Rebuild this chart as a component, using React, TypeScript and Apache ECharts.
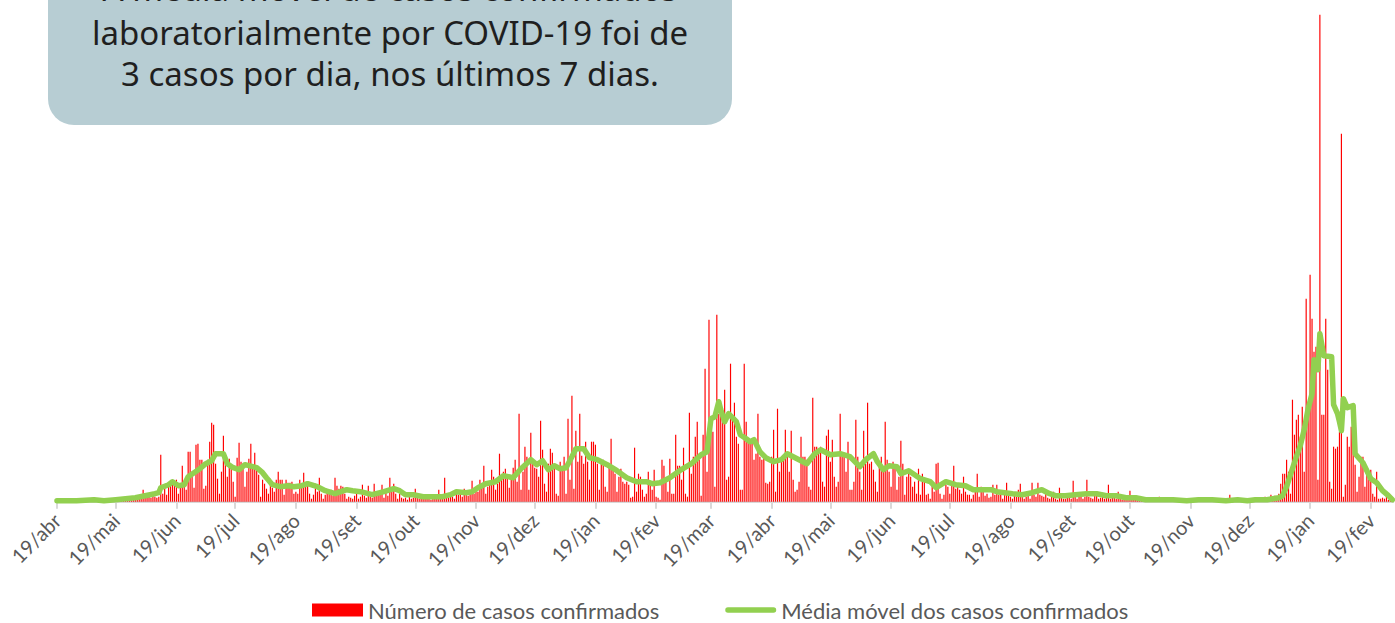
import React, { useEffect, useRef } from "react";
import * as echarts from "echarts";

// First day of the series: 19/abr/2020
const START_DATE = [2020, 3, 19];
const MONTH_NAMES = ["jan", "fev", "mar", "abr", "mai", "jun", "jul", "ago", "set", "out", "nov", "dez"];

const legendNames = ["Número de casos confirmados", "Média móvel dos casos confirmados"];

const noteLines = [
  "A média móvel de casos confirmados",
  "laboratorialmente por COVID-19 foi de",
  "3 casos por dia, nos últimos 7 dias.",
];

// Daily confirmed cases (one value per day, starting 19/abr/2020)
const dailyCases = [
  // 0
  0, 1, 0, 2, 1, 0, 1, 3, 1, 2,
  1, 0, 2, 1, 3, 1, 0, 2, 4, 1,
  2, 1, 3, 0, 1, 2, 1, 3, 2, 1,
  2, 3, 1, 4, 2, 3, 5, 2, 3, 4,
  5, 3, 6, 4, 12, 5, 6, 7, 4, 8,
  // 50
  5, 4, 5, 47, 8, 14, 7, 15, 18, 22,
  20, 22, 8, 16, 36, 18, 12, 50, 50, 28,
  14, 57, 58, 42, 42, 13, 16, 42, 60, 79,
  77, 38, 23, 8, 30, 66, 45, 25, 43, 35,
  20, 5, 44, 59, 40, 37, 15, 30, 43, 58,
  // 100
  33, 49, 32, 27, 5, 22, 18, 13, 8, 23,
  14, 10, 22, 30, 22, 22, 7, 22, 19, 19,
  20, 8, 10, 8, 22, 18, 29, 15, 16, 8,
  3, 7, 18, 10, 24, 8, 3, 7, 10, 8,
  12, 6, 24, 16, 13, 16, 15, 8, 3, 5,
  // 150
  4, 3, 6, 8, 3, 5, 17, 6, 4, 16,
  5, 4, 18, 6, 10, 7, 17, 4, 10, 6,
  24, 10, 18, 8, 3, 8, 4, 3, 4, 2,
  5, 3, 4, 13, 6, 3, 5, 4, 5, 3,
  4, 2, 6, 3, 4, 12, 5, 3, 24, 6,
  // 200
  4, 8, 5, 3, 12, 7, 9, 5, 13, 8,
  6, 10, 21, 8, 12, 10, 22, 14, 36, 8,
  15, 20, 32, 25, 12, 18, 48, 22, 30, 33,
  25, 14, 22, 34, 42, 20, 88, 12, 30, 55,
  45, 12, 69, 40, 34, 33, 25, 81, 52, 18,
  // 250
  10, 38, 53, 49, 38, 8, 6, 40, 35, 45,
  8, 83, 22, 106, 13, 71, 40, 88, 46, 38,
  60, 40, 22, 60, 60, 57, 38, 12, 38, 42,
  15, 10, 38, 63, 35, 28, 10, 25, 33, 20,
  18, 20, 17, 4, 5, 54, 10, 28, 25, 12,
  // 300
  5, 8, 30, 20, 12, 32, 5, 4, 2, 42,
  36, 20, 10, 43, 8, 8, 67, 36, 36, 22,
  54, 8, 5, 89, 28, 45, 65, 80, 42, 6,
  67, 133, 30, 182, 85, 70, 15, 187, 88, 98,
  85, 112, 22, 25, 138, 87, 99, 65, 58, 12,
  // 350
  12, 138, 80, 62, 62, 62, 42, 48, 88, 45,
  42, 45, 19, 18, 20, 45, 72, 10, 93, 30,
  42, 42, 72, 45, 30, 71, 22, 10, 12, 20,
  65, 45, 45, 42, 15, 12, 104, 55, 55, 52,
  55, 20, 15, 66, 72, 40, 62, 25, 15, 20,
  // 400
  88, 45, 45, 30, 60, 12, 12, 20, 82, 45,
  30, 12, 71, 38, 99, 38, 40, 32, 20, 10,
  35, 45, 30, 80, 42, 30, 15, 40, 35, 12,
  25, 61, 38, 7, 25, 28, 25, 15, 20, 8,
  33, 7, 28, 22, 7, 8, 3, 20, 10, 38,
  // 450
  39, 8, 3, 7, 17, 15, 8, 18, 36, 13,
  18, 12, 8, 25, 10, 7, 7, 3, 7, 12,
  28, 5, 15, 12, 6, 8, 4, 5, 17, 7,
  17, 7, 8, 3, 8, 19, 8, 5, 3, 8,
  5, 12, 18, 7, 3, 5, 8, 3, 19, 7,
  // 500
  5, 19, 7, 6, 5, 8, 4, 3, 8, 10,
  3, 2, 14, 6, 3, 3, 5, 4, 3, 21,
  5, 3, 5, 8, 3, 5, 22, 5, 4, 3,
  6, 8, 3, 4, 5, 3, 7, 17, 3, 4,
  8, 3, 10, 3, 2, 4, 3, 5, 11, 3,
  // 550
  2, 4, 2, 3, 1, 2, 3, 1, 2, 3,
  1, 2, 3, 5, 1, 2, 1, 3, 2, 1,
  2, 1, 3, 2, 1, 2, 1, 0, 2, 1,
  3, 1, 2, 1, 0, 2, 1, 3, 1, 2,
  1, 0, 2, 1, 3, 1, 2, 1, 3, 7,
  // 600
  2, 1, 3, 1, 2, 1, 3, 2, 1, 2,
  3, 1, 2, 3, 2, 1, 3, 5, 2, 4,
  7, 3, 6, 5, 8, 18, 28, 28, 42, 30,
  8, 102, 67, 82, 87, 65, 95, 30, 203, 97,
  227, 183, 150, 155, 22, 487, 87, 87, 183, 132,
  // 650
  20, 13, 55, 53, 55, 70, 368, 5, 17, 65,
  55, 75, 78, 37, 10, 25, 45, 45, 15, 33,
  22, 32, 8, 5, 30, 3, 3, 4, 3, 5,
  2, 3, 1,
];

// 7-day moving average, read at [day index, value]
const movingAverage = [
  [0, 1], [10, 1], [19, 2], [24, 1], [30, 2], [35, 3], [40, 4], [45, 6], [50, 8], [52, 9],
  [53, 14], [57, 17], [59, 20], [62, 16], [65, 17], [67, 25], [70, 29], [73, 33], [76, 38], [79, 41],
  [81, 48], [85, 48], [87, 38], [90, 34], [93, 32], [96, 37], [100, 35], [102, 34], [105, 29], [107, 24],
  [110, 17], [114, 15], [118, 16], [121, 15], [125, 16], [128, 18], [133, 15], [137, 11], [142, 8], [148, 12],
  [151, 11], [155, 10], [161, 7], [167, 10], [172, 13], [175, 11], [178, 7], [182, 7], [187, 5], [192, 5],
  [197, 5], [201, 7], [204, 10], [209, 9], [212, 10], [215, 14], [219, 18], [224, 20], [228, 26], [233, 24],
  [237, 33], [242, 42], [245, 37], [248, 41], [251, 32], [254, 36], [257, 33], [260, 34], [263, 45], [265, 53],
  [269, 53], [272, 44], [276, 42], [281, 37], [286, 31], [291, 24], [296, 20], [301, 20], [304, 18], [308, 19],
  [313, 24], [318, 31], [324, 38], [329, 47], [332, 50], [334, 83], [336, 85], [338, 100], [339, 92], [341, 80],
  [343, 88], [345, 84], [347, 80], [349, 67], [352, 63], [354, 60], [356, 62], [359, 50], [362, 44], [366, 40],
  [370, 42], [373, 48], [378, 43], [383, 38], [387, 48], [390, 52], [395, 47], [400, 48], [405, 45], [410, 35],
  [413, 42], [417, 48], [419, 40], [422, 32], [425, 36], [429, 35], [431, 28], [435, 31], [438, 27], [441, 23],
  [446, 20], [449, 14], [454, 20], [459, 17], [464, 16], [468, 12], [473, 12], [477, 12], [480, 10], [484, 9],
  [488, 8], [493, 7], [498, 9], [503, 12], [507, 8], [510, 6], [515, 6], [520, 7], [526, 8], [531, 8],
  [536, 6], [541, 6], [546, 4], [551, 4], [556, 2], [562, 2], [570, 2], [577, 1], [583, 2], [590, 2],
  [597, 1], [603, 2], [608, 1], [612, 2], [618, 2], [621, 3], [624, 4], [626, 6], [628, 15], [631, 33],
  [633, 45], [635, 56], [637, 72], [639, 93], [641, 108], [642, 142], [644, 132], [645, 168], [647, 146], [651, 145],
  [652, 97], [654, 88], [655, 80], [656, 71], [657, 103], [659, 94], [662, 96], [663, 48], [667, 39], [671, 23],
  [674, 19], [677, 11], [680, 6], [682, 2],
];

// vertical centres of the note lines (the first one is mostly hidden above the page)
const noteLineY = [-12, 32, 73];

const FONT = "Lato, 'Noto Sans', sans-serif";

function buildCategories(count: number) {
  const cats: string[] = [];
  const dom: number[] = [];
  const t0 = Date.UTC(START_DATE[0], START_DATE[1], START_DATE[2]);
  for (let i = 0; i < count; i++) {
    const d = new Date(t0 + i * 86400000);
    cats.push(`${d.getUTCDate()}/${MONTH_NAMES[d.getUTCMonth()]}/${d.getUTCFullYear()}`);
    dom.push(d.getUTCDate());
  }
  return { cats, dom };
}

export default function App() {
  const ref = useRef<HTMLDivElement>(null);

  useEffect(() => {
    if (!ref.current) return;
    const chart = echarts.init(ref.current, undefined, { renderer: "svg" });
    const { cats, dom } = buildCategories(dailyCases.length);
    const isTick = (i: number) => dom[i] === 19;

    chart.setOption({
      animation: false,
      backgroundColor: "#ffffff",
      textStyle: { fontFamily: FONT },
      grid: { left: 56, right: 1.7, top: 11.7, bottom: 121.3, containLabel: false },
      xAxis: {
        type: "category",
        data: cats,
        boundaryGap: true,
        axisLine: { show: true, lineStyle: { color: "#d9d9d9", width: 2 } },
        axisTick: {
          show: true,
          alignWithLabel: true,
          interval: (i: number) => isTick(i),
          length: 7,
          lineStyle: { color: "#d9d9d9", width: 2 },
        },
        axisLabel: {
          interval: (i: number) => isTick(i),
          formatter: (v: string) => v.split("/").slice(0, 2).join("/"),
          rotate: 45,
          margin: 15,
          color: "#595959",
          fontSize: 20,
          fontFamily: FONT,
        },
        splitLine: { show: false },
      },
      yAxis: {
        type: "value",
        min: 0,
        max: 490,
        show: false,
        splitLine: { show: false },
      },
      legend: {
        left: 307,
        top: 593,
        itemWidth: 51,
        itemHeight: 13,
        itemGap: 66,
        selectedMode: false,
        textStyle: { color: "#595959", fontSize: 22, fontFamily: FONT, lineHeight: 24 },
        data: [
          { name: legendNames[0], icon: "rect" },
          {
            name: legendNames[1],
            icon: "path://M2.5,0H44.5A2.5,2.5,0,0,1,44.5,5H2.5A2.5,2.5,0,0,1,2.5,0Z",
          },
        ],
      },
      series: [
        {
          type: "bar",
          name: legendNames[0],
          data: dailyCases,
          barWidth: "60%",
          itemStyle: { color: "#ff0000" },
          silent: true,
        },
        {
          type: "line",
          name: legendNames[1],
          data: movingAverage,
          symbol: "none",
          showSymbol: false,
          smooth: false,
          z: 5,
          itemStyle: { color: "#92d050" },
          lineStyle: { color: "#92d050", width: 5.5, cap: "round", join: "round" },
          silent: true,
        },
      ],
      graphic: [
        {
          type: "rect",
          shape: { x: 48, y: -70, width: 684, height: 195, r: 26 },
          style: { fill: "#b7cdd3" },
          z: 10,
        },
        ...noteLines.map((line, i) => ({
          type: "text",
          x: 390,
          y: noteLineY[i],
          z: 11,
          style: {
            text: line,
            fill: "#1f1f1f",
            fontSize: 33,
            fontFamily: "'Noto Sans', sans-serif",
            textAlign: "center",
            textVerticalAlign: "middle",
          },
        })),
      ],
    });

    return () => chart.dispose();
  }, []);

  return (
    <div
      ref={ref}
      style={{ position: "fixed", left: 0, top: 0, width: 1395, height: 623, background: "#fff" }}
    />
  );
}
